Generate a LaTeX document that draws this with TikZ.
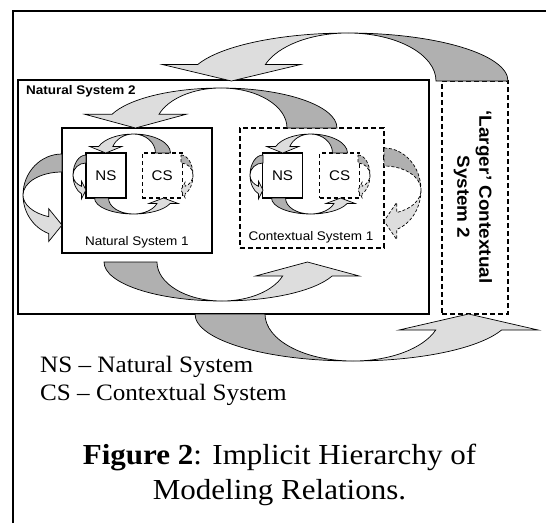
\documentclass[tikz,border=0pt]{standalone}
\usepackage{fontspec}
\setmainfont{Liberation Serif}[FakeStretch=1.07]
\newfontfamily\diagfont{Liberation Sans}[FakeStretch=1.08]
\usetikzlibrary{positioning}

\definecolor{backgray}{RGB}{176,176,176}
\definecolor{frontgray}{RGB}{221,221,221}

\tikzset{
  sysbox/.style={draw, line width=1.2pt, inner sep=0pt},
  ctxbox/.style={sysbox, dash pattern=on 5pt off 3pt},
  smallbox/.style={draw, line width=1.1pt, minimum width=40pt, minimum height=45pt,
    inner sep=0pt, font=\diagfont\fontsize{14}{17}\selectfont},
  smallctx/.style={smallbox, dash pattern=on 4pt off 3pt},
  backface/.style={draw, line width=0.7pt, fill=backgray},
  frontface/.style={draw, line width=0.7pt, fill=frontgray},
  dashedge/.style={dash pattern=on 3pt off 2pt},
  syslabel/.style={font=\diagfont\fontsize{12.5}{15}\selectfont, inner sep=0pt},
  boldlabel/.style={font=\diagfont\bfseries\fontsize{12.5}{15}\selectfont, inner sep=0pt},
  legend/.style={font=\fontsize{23.5}{28}\selectfont, inner sep=0pt, anchor=base west},
  caption/.style={font=\fontsize{29}{35}\selectfont, inner sep=0pt, anchor=base}
}

% twisted curved arrow: tail half dark, head half light
% #2 placement, #3 outer radius, #4 inner radius, #5 depth, #6 end angle, #7 barb
\newcommand{\twistarrow}[7][]{%
  \begin{scope}[#2]
    \pgfmathsetmacro{\outx}{#3*cos(#6)}
    \pgfmathsetmacro{\inx}{#4*cos(#6)}
    \pgfmathsetmacro{\baseY}{#5*sin(#6)}
    \pgfmathsetmacro{\tipx}{(\outx+\inx)/2}
    \filldraw[backface,#1] (-#3,0) arc[start angle=180, end angle=90, x radius=#3, y radius=#5]
      arc[start angle=90, end angle=180, x radius=#4, y radius=#5] -- cycle;
    \filldraw[frontface,#1] (0,#5) arc[start angle=90, end angle=#6, x radius=#3, y radius=#5]
      -- (\outx+#7,\baseY) -- (\tipx,0) -- (\inx-#7,\baseY) -- (\inx,\baseY)
      arc[start angle=#6, end angle=90, x radius=#4, y radius=#5] -- cycle;
  \end{scope}}

\begin{document}
\begin{tikzpicture}[x=1pt, y=-1pt]
\useasboundingbox (0,0) rectangle (546,523);

\draw[line width=1.4pt] (13,523) -- (13,11) -- (546,11);

% systems
\node[sysbox, line width=1.6pt, minimum width=411pt, minimum height=234pt] (ns2) at (223.5,197) {};
\node[sysbox, minimum width=150pt, minimum height=125pt] (ns1) at (137,190.5) {};
\node[ctxbox, minimum width=144pt, minimum height=120pt] (cs1) at (312,188) {};
\node[ctxbox, minimum width=66pt, minimum height=233pt] (cs2) at (475,197.5) {};

\node[smallbox] (nsA) at (106,175.5) {NS};
\node[smallctx, right=15pt of nsA] (csA) {CS};
\node[smallbox] (nsB) at (282.5,175.5) {NS};
\node[smallctx, right=16pt of nsB] (csB) {CS};

\node[boldlabel, anchor=base west] (ns2label) at (26,94) {Natural System 2};
\node[syslabel, anchor=base] (ns1label) at (137,245) {Natural System 1};
\node[syslabel, anchor=base] (cs1label) at (311,240) {Contextual System 1};
\node[font=\diagfont\bfseries\fontsize{17.5}{22}\selectfont, rotate=-90, align=center]
  (cs2label) at (473,197) {‘Larger’ Contextual\\System 2};

% level 2 loop
\twistarrow{shift={(348,81)}, rotate=180}{160}{88}{48}{20}{35}
\twistarrow{shift={(353,314)}}{158}{88}{47}{20}{37}
% level 1 loop
\twistarrow{shift={(221,128)}, rotate=180}{116}{66}{40}{20}{27}
\twistarrow{shift={(222,262)}}{118}{65}{39}{21}{27}
% side loops
\twistarrow{shift={(62,195)}, rotate=-90}{41}{23}{39}{20}{8}
\twistarrow[dashedge]{shift={(384,190)}, rotate=90, xscale=-1}{42}{24}{37}{20}{10}

% loops inside both level 1 systems
\foreach \mx/\lx/\rx in {133.5/86/181, 310.5/263/358}{
  \twistarrow{shift={(\mx,153)}, rotate=180}{37}{22}{19}{20}{9}
  \twistarrow{shift={(\mx,198)}}{39}{25}{16}{20}{8}
  \twistarrow{shift={(\lx,175)}, rotate=-90}{20}{12}{13}{20}{5}
  \twistarrow[dashedge]{shift={(\rx,175)}, rotate=90, xscale=-1}{20}{12}{12}{20}{4}
}

% legend and caption
\node[legend] (legendns) at (40,372) {NS – Natural System};
\node[legend] (legendcs) at (40,400) {CS – Contextual System};
\node[caption] (captop) at (279.5,464) {\textbf{Figure 2}: Implicit Hierarchy of};
\node[caption] (capbot) at (279.5,499) {Modeling Relations.};
\end{tikzpicture}
\end{document}
